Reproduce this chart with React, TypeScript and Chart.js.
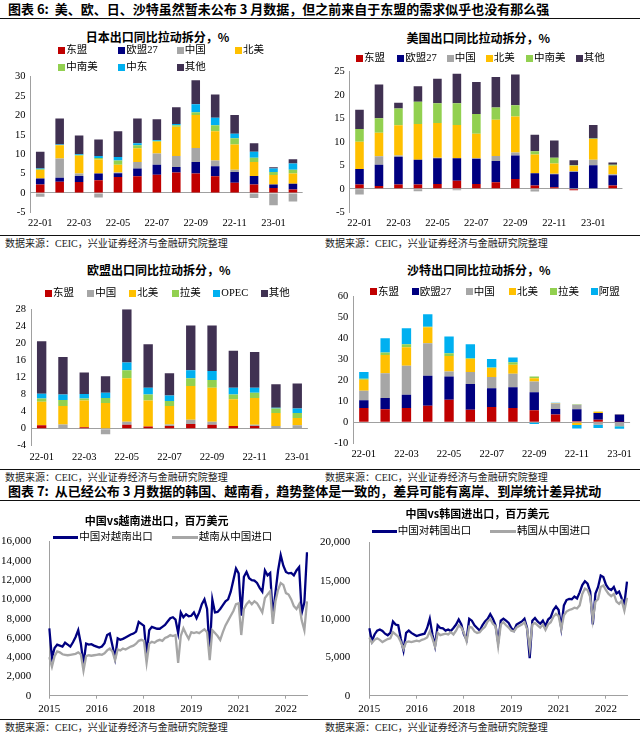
import React, { useEffect, useRef } from "react";
import { Chart, registerables } from "chart.js";
Chart.register(...registerables);

const SERIF = '"Liberation Serif", "Noto Sans CJK SC", serif';
const CJK = '"Noto Sans CJK SC", "Liberation Serif", sans-serif';
const AX = "#A0A0A0";
const NAVY = "#000080";
const GRAY = "#A6A6A6";
const COL = { asean: "#C00000", eu: "#000080", china: "#A6A6A6", na: "#FFC000", latam: "#92D050", me: "#00B0F0", other: "#403152" };

// ---------- bar-chart data ----------
const months14 = ["22-01", "22-02", "22-03", "22-04", "22-05", "22-06", "22-07", "22-08", "22-09", "22-10", "22-11", "22-12", "23-01", "23-02"];
const months13 = ["22-01", "22-02", "22-03", "22-04", "22-05", "22-06", "22-07", "22-08", "22-09", "22-10", "22-11", "22-12", "23-01"];

// Japan
const jpAsean = [2.2, 2.9, 2.8, 3.3, 4.1, 4.3, 4.7, 5.3, 5.0, 4.3, 2.6, 2.2, 1.3, 0.9];
const jpEU = [1.5, 1.0, 1.6, 1.7, 1.0, 2.0, 2.6, 1.4, 3.0, 2.6, 2.8, 2.2, 0.9, 1.5];
const jpChina = [-1.0, 5.0, 0.6, -1.2, 0.2, 1.7, 2.9, 2.8, 3.6, 1.5, 0.6, -1.3, -3.2, -2.2];
const jpNA = [2.2, 3.4, 4.6, 3.6, 2.0, 3.5, 3.0, 7.6, 8.5, 7.5, 6.5, 3.6, 2.4, 2.6];
const jpLatAm = [0.2, 0.1, 0.2, 0.4, 1.1, 0.8, 0.2, 0.4, 0.7, 1.6, 1.6, 1.1, 0.8, 1.0];
const jpME = [0.2, 0.1, 0.2, 0.5, 0.9, 0.5, 0.2, 0.3, 2.1, 1.9, 1.2, 1.5, 0.9, 1.6];
const jpOther = [4.3, 6.7, 4.8, 4.3, 6.6, 6.4, 5.4, 4.3, 6.2, 6.0, 4.8, 2.2, 0.3, 1.1];

// USA
const usAsean = [0.9, 0.6, 0.9, 0.9, 1.0, 1.7, 1.0, 1.4, 2.1, 0.7, 0.35, -0.3, 0.1, 0.7];
const usEU = [3.3, 4.5, 5.9, 5.3, 5.5, 4.8, 5.4, 4.5, 5.0, 2.6, 2.75, 3.6, 4.9, 2.2];
const usChina = [-1.2, 1.8, 0.3, -0.5, 0.1, -0.3, 0.1, 1.1, 0.6, -0.6, 0.1, 0.2, 1.2, 0.2];
const usNA = [5.8, 5.0, 6.4, 7.6, 7.4, 7.1, 5.2, 7.7, 7.7, 4.0, 2.2, 1.1, 4.4, 1.8];
const usLatAm = [2.7, 3.1, 3.6, 4.7, 4.2, 4.6, 4.2, 2.6, 2.4, 0.7, 1.2, 0.1, 0.1, 0.2];
const usOther = [4.1, 7.2, 1.2, 3.3, 5.2, 6.3, 6.8, 6.5, 6.5, 3.5, 3.7, 1.1, 2.9, 0.5];

// EU
const euAsean = [0.8, 0.1, 0.3, 0.1, 0.9, 0.5, 0.6, 1.1, 0.9, 0.6, 0.6, 0.1, 0.1];
const euChina = [0.0, 0.9, 0.0, -1.3, 0.7, 0.0, 0.4, 1.0, 0.7, 0.0, 0.3, 0.5, 0.7];
const euNA = [5.5, 4.3, 6.3, 5.9, 10.2, 6.1, 4.3, 7.9, 8.0, 6.3, 6.3, 3.1, 1.7];
const euLatAm = [0.8, 1.4, 0.5, 1.2, 1.9, 1.4, 1.2, 1.8, 1.8, 1.1, 1.2, 1.0, 1.2];
const euOPEC = [1.1, 1.3, 1.0, 1.2, 1.8, 1.6, 1.3, 1.9, 2.1, 1.6, 1.2, 0.2, 1.0];
const euOther = [12.3, 8.8, 5.1, 3.9, 12.5, 10.2, 5.2, 10.5, 10.7, 8.7, 8.4, 5.5, 5.9];

// Saudi Arabia
const saAsean = [6.8, 6.3, 6.8, 7.9, 10.8, 6.0, 7.3, 6.8, 5.8, 3.7, 0.5, 1.2, 0.2];
const saEU = [3.7, 5.3, 6.4, 14.3, 11.1, 12.3, 9.0, 10.0, 8.6, 2.7, 5.8, 3.3, 3.6];
const saChina = [4.6, 11.9, 13.8, 15.6, 2.4, 5.7, 5.3, 6.4, 5.1, 2.6, 2.1, -1.1, -1.7];
const saNA = [5.2, 8.7, 8.9, 7.6, 7.4, 6.3, 4.3, 4.3, 1.6, 0.2, -1.3, 0.6, 0.1];
const saLatAm = [0.5, 1.1, 1.4, 0.3, 1.3, 0.3, 0.3, 1.2, 0.8, 0.1, 0.2, 0.1, -0.1];
const saArab = [3.2, 6.9, 7.6, 5.9, 8.0, 6.7, 4.0, 2.3, -0.8, 0.1, -1.6, -1.6, -1.3];

// ---------- line-chart data (monthly 2015-01 .. 2023-03) ----------
const lineMonths: string[] = [];
for (let i = 0; i < 99; i++) lineMonths.push(`${2015 + Math.floor(i / 12)}-${String((i % 12) + 1).padStart(2, "0")}`);

const vnExport = [
  7000, 3900, 4950, 5300, 5200, 5100, 5500, 5300, 5100, 5550, 6100, 6800,
  5400, 3300, 5400, 5300, 5350, 5200, 5100, 5000, 5100, 5450, 6300, 6450,
  5200, 3900, 5950, 5800, 5900, 6050, 6200, 6350, 6450, 6650, 7650, 7450,
  7250, 4300, 6800, 7150, 7050, 6950, 6950, 7150, 7350, 7700, 8050, 8150,
  7900, 6500, 8650, 8150, 8450, 8250, 8300, 8650, 8050, 8650, 9500, 10000,
  9000, 4500, 10000, 8650, 8700, 9000, 9400, 9800, 10000, 10800, 12000, 13200,
  12700, 8300, 12350, 12850, 12200, 12000, 11950, 11700, 11200, 10800, 13000, 12500,
  12750, 8200, 10700, 13000, 14600, 13500, 12850, 12700, 12750, 12500, 13000, 13350,
  8600, 9700, 14900,
];
const vnImport = [
  4000, 3000, 4100, 4600, 4500, 4300, 4250, 4200, 4250, 4300, 4350, 4500,
  4300, 2600, 4100, 4200, 4150, 4200, 4250, 4300, 4250, 4400, 4700, 4900,
  4600, 3700, 4800, 4700, 4900, 4800, 4950, 5100, 5200, 5400, 5700, 5800,
  5700, 3400, 5400, 5600, 5500, 5700, 5800, 5700, 6000, 6100, 6300, 6200,
  6300, 3400, 6200, 7000, 6400, 5900, 6600, 6500, 6600, 6500, 6700, 6900,
  6600, 3700, 6800, 6500, 6200, 5800, 6600, 7300, 7800, 8300, 8800, 9500,
  9600, 6300, 9000, 9500, 9800, 9500, 9800, 9600, 9150, 8650, 10150, 10500,
  10850, 7450, 9800, 11000, 11700, 11500, 10650, 10500, 10000, 9300, 9000, 9500,
  7800, 6800, 9800,
];
const krExport = [
  8800, 7150, 8000, 8500, 8650, 8450, 8100, 7900, 8200, 9700, 9300, 9200,
  7400, 5900, 8200, 8500, 8200, 8000, 7800, 7900, 8000, 8100, 8850, 10050,
  8000, 6500, 9200, 8850, 8800, 8500, 8650, 8450, 8850, 9300, 9950, 9300,
  8000, 7350, 10050, 9800, 9200, 8850, 8500, 9200, 9700, 10050, 10650, 10050,
  9200, 7000, 9800, 10050, 9800, 9500, 8850, 8500, 9300, 9500, 9700, 10050,
  8850, 4900, 9800, 10150, 9700, 9400, 9800, 9100, 9950, 10250, 11200, 11650,
  11200, 8850, 11800, 12500, 12650, 12600, 12950, 12700, 13500, 14450, 14950, 14650,
  13600, 9300, 13350, 14200, 15700, 15500, 14500, 14000, 13800, 14200, 13350, 13600,
  12700, 12000, 14900,
];
const krImport = [
  7600, 6900, 7300, 7500, 7300, 7000, 7200, 7400, 7500, 8300, 8000, 7700,
  7000, 6100, 7000, 7100, 7000, 7100, 7200, 7100, 7300, 7400, 7600, 8400,
  7500, 6400, 8200, 7900, 8000, 8100, 8000, 8300, 8000, 8500, 9200, 8900,
  8200, 7100, 9000, 8900, 8400, 8200, 8300, 8700, 9000, 9700, 10000, 9400,
  9100, 6500, 9300, 9600, 9200, 8900, 8500, 8400, 8900, 9100, 9300, 9600,
  8700, 6200, 9300, 9500, 9200, 8900, 9300, 8600, 9300, 9600, 10300, 10700,
  10400, 8700, 10500, 11000, 11200, 11300, 11500, 11400, 11800, 13300, 14000, 13800,
  12900, 9900, 12300, 12600, 14200, 14400, 13800, 13300, 13000, 13300, 12300, 12000,
  12400, 11100, 12800,
];

// ---------- helpers ----------
type Geo = { cx: number; cy: number; cw: number; ch: number; L: number; T: number; R: number; B: number };
type Series = { label: string; data: number[]; color: string };

function barConfig(geo: Geo, labels: string[], series: Series[], min: number, max: number, step: number, pad: number) {
  return {
    type: "bar",
    data: {
      labels,
      datasets: series.map((s) => ({
        label: s.label,
        data: s.data,
        backgroundColor: s.color,
        borderWidth: 0,
        barPercentage: 0.44,
        categoryPercentage: 1,
      })),
    },
    options: {
      animation: false,
      responsive: false,
      maintainAspectRatio: false,
      devicePixelRatio: 1,
      layout: { padding: { left: 0, top: geo.T - geo.cy, right: geo.cx + geo.cw - geo.R, bottom: 0 } },
      plugins: { legend: { display: false }, title: { display: false }, tooltip: { enabled: false } },
      scales: {
        x: {
          stacked: true,
          grid: { display: false, drawTicks: false },
          border: { display: false },
          ticks: {
            autoSkip: false,
            maxRotation: 0,
            minRotation: 0,
            padding: 5,
            color: "#000",
            font: { family: SERIF, size: 10.5 },
            callback: (_v: any, i: number) => (i % 2 === 0 ? labels[i] : ""),
          },
          afterFit: (s: any) => {
            s.height = geo.cy + geo.ch - geo.B;
          },
        },
        y: {
          stacked: true,
          min,
          max,
          ticks: { stepSize: step, padding: pad, color: "#000", font: { family: SERIF, size: 10.5 } },
          grid: {
            drawTicks: false,
            lineWidth: 1,
            color: (ctx: any) => (ctx.tick && ctx.tick.value === 0 ? AX : "rgba(0,0,0,0)"),
          },
          border: { display: true, color: AX },
          afterFit: (s: any) => {
            s.width = geo.L - geo.cx;
          },
        },
      },
    },
  };
}

function lineConfig(geo: Geo, labels: string[], a: Series, b: Series, max: number, step: number, pad: number) {
  return {
    type: "line",
    data: {
      labels,
      datasets: [
        { label: a.label, data: a.data, borderColor: a.color, borderWidth: 2.3, pointRadius: 0, tension: 0, order: 1 },
        { label: b.label, data: b.data, borderColor: b.color, borderWidth: 2.3, pointRadius: 0, tension: 0, order: 0 },
      ],
    },
    options: {
      animation: false,
      responsive: false,
      maintainAspectRatio: false,
      devicePixelRatio: 1,
      layout: { padding: { left: 0, top: geo.T - geo.cy, right: geo.cx + geo.cw - geo.R, bottom: 0 } },
      plugins: { legend: { display: false }, title: { display: false }, tooltip: { enabled: false } },
      scales: {
        x: {
          grid: {
            display: true,
            drawOnChartArea: false,
            drawTicks: true,
            tickLength: 3,
            color: (ctx: any) => (ctx.index % 18 === 0 ? AX : "rgba(0,0,0,0)"),
          },
          border: { display: true, color: AX },
          ticks: {
            autoSkip: false,
            maxRotation: 0,
            minRotation: 0,
            padding: 4,
            color: "#000",
            font: { family: SERIF, size: 11 },
            callback: (_v: any, i: number) => (i % 18 === 0 ? labels[i].slice(0, 4) : ""),
          },
          afterFit: (s: any) => {
            s.height = geo.cy + geo.ch - geo.B;
          },
        },
        y: {
          min: 0,
          max,
          ticks: {
            stepSize: step,
            padding: pad,
            color: "#000",
            font: { family: SERIF, size: 11 },
            callback: (v: any) => Number(v).toLocaleString("en-US"),
          },
          grid: { display: false },
          border: { display: true, color: AX },
          afterFit: (s: any) => {
            s.width = geo.L - geo.cx;
          },
        },
      },
    },
  };
}

function ChartCanvas({ geo, config }: { geo: Geo; config: any }) {
  const ref = useRef<HTMLCanvasElement>(null);
  useEffect(() => {
    const chart = new Chart(ref.current as HTMLCanvasElement, config);
    return () => chart.destroy();
  }, []);
  return (
    <canvas
      ref={ref}
      width={geo.cw}
      height={geo.ch}
      style={{ position: "absolute", left: geo.cx, top: geo.cy, width: geo.cw, height: geo.ch }}
    />
  );
}

function Txt(props: { x: number; y: number; text: string; size?: number; bold?: boolean; center?: boolean; family?: string; color?: string }) {
  const size = props.size ?? 10.5;
  const lh = Math.round(size * 1.5);
  const style: any = {
    position: "absolute",
    top: props.y - lh / 2,
    height: lh,
    lineHeight: `${lh}px`,
    fontSize: size,
    fontWeight: props.bold ? 700 : 400,
    fontFamily: props.family ?? SERIF,
    color: props.color ?? "#000",
    whiteSpace: "pre",
  };
  if (props.center) {
    style.left = props.x - 200;
    style.width = 400;
    style.textAlign = "center";
  } else {
    style.left = props.x;
  }
  return <div style={style}>{props.text}</div>;
}

function BoxLegend({ x, y, color, text }: { x: number; y: number; color: string; text: string }) {
  return (
    <>
      <div style={{ position: "absolute", left: x, top: y - 3.5, width: 7, height: 7, background: color }} />
      <Txt x={x + 8} y={y} text={text} size={10.5} />
    </>
  );
}

function LineLegend({ x, y, color, text, len }: { x: number; y: number; color: string; text: string; len: number }) {
  return (
    <>
      <div style={{ position: "absolute", left: x, top: y - 1.5, width: len, height: 3, background: color }} />
      <Txt x={x + len + 1} y={y} text={text} size={10.5} />
    </>
  );
}

function HLine({ y, h = 1, x = 0, w = 640 }: { y: number; h?: number; x?: number; w?: number }) {
  return <div style={{ position: "absolute", left: x, top: y - h / 2, width: w, height: h, background: "#111" }} />;
}

// ---------- geometry ----------
const geoJP: Geo = { cx: 0, cy: 60, cw: 320, ch: 175, L: 30.5, T: 76.7, R: 30.5 + 14 * 19.44, B: 212.3 };
const geoUS: Geo = { cx: 320, cy: 60, cw: 320, ch: 175, L: 349.75, T: 69.3, R: 349.75 + 14 * 19.48, B: 212.3 };
const geoEU: Geo = { cx: 0, cy: 298, cw: 320, ch: 170, L: 31, T: 309.3, R: 31 + 13 * 21.3, B: 445.7 };
const geoSA: Geo = { cx: 320, cy: 285, cw: 320, ch: 183, L: 353.2, T: 296.7, R: 353.2 + 13 * 21.3, B: 443.3 };
const geoVN: Geo = { cx: 0, cy: 525, cw: 320, ch: 193, L: 49.3, T: 537.3, R: 307, B: 695.7 };
const geoKR: Geo = { cx: 320, cy: 525, cw: 320, ch: 193, L: 369.3, T: 540, R: 627, B: 695.7 };

const SRC = "数据来源：CEIC，兴业证券经济与金融研究院整理";

export default function App() {
  const jpSeries: Series[] = [
    { label: "东盟", data: jpAsean, color: COL.asean },
    { label: "欧盟27", data: jpEU, color: COL.eu },
    { label: "中国", data: jpChina, color: COL.china },
    { label: "北美", data: jpNA, color: COL.na },
    { label: "中南美", data: jpLatAm, color: COL.latam },
    { label: "中东", data: jpME, color: COL.me },
    { label: "其他", data: jpOther, color: COL.other },
  ];
  const usSeries: Series[] = [
    { label: "东盟", data: usAsean, color: COL.asean },
    { label: "欧盟27", data: usEU, color: COL.eu },
    { label: "中国", data: usChina, color: COL.china },
    { label: "北美", data: usNA, color: COL.na },
    { label: "中南美", data: usLatAm, color: COL.latam },
    { label: "其他", data: usOther, color: COL.other },
  ];
  const euSeries: Series[] = [
    { label: "东盟", data: euAsean, color: COL.asean },
    { label: "中国", data: euChina, color: COL.china },
    { label: "北美", data: euNA, color: COL.na },
    { label: "拉美", data: euLatAm, color: COL.latam },
    { label: "OPEC", data: euOPEC, color: COL.me },
    { label: "其他", data: euOther, color: COL.other },
  ];
  const saSeries: Series[] = [
    { label: "东盟", data: saAsean, color: COL.asean },
    { label: "欧盟27", data: saEU, color: COL.eu },
    { label: "中国", data: saChina, color: COL.china },
    { label: "北美", data: saNA, color: COL.na },
    { label: "拉美", data: saLatAm, color: COL.latam },
    { label: "阿盟", data: saArab, color: COL.me },
  ];
  const vnA: Series = { label: "中国对越南出口", data: vnExport, color: NAVY };
  const vnB: Series = { label: "越南从中国进口", data: vnImport, color: GRAY };
  const krA: Series = { label: "中国对韩国出口", data: krExport, color: NAVY };
  const krB: Series = { label: "韩国从中国进口", data: krImport, color: GRAY };

  return (
    <div style={{ position: "absolute", left: 0, top: 0, width: 640, height: 736, background: "#fff", overflow: "hidden" }}>
      {/* headers */}
      <Txt x={8} y={9} text="图表 6:  美、欧、日、沙特虽然暂未公布 3 月数据，但之前来自于东盟的需求似乎也没有那么强" size={13} bold family={CJK} />
      <HLine y={18.5} h={1.5} />
      <Txt x={8} y={491} text="图表 7:  从已经公布 3 月数据的韩国、越南看，趋势整体是一致的，差异可能有离岸、到岸统计差异扰动" size={13} bold family={CJK} />
      <HLine y={500.5} h={1.5} />

      {/* charts */}
      <ChartCanvas geo={geoJP} config={barConfig(geoJP, months14, jpSeries, -5, 30, 5, 5)} />
      <ChartCanvas geo={geoUS} config={barConfig(geoUS, months14, usSeries, -5, 25, 5, 5)} />
      <ChartCanvas geo={geoEU} config={barConfig(geoEU, months13, euSeries, -4, 28, 4, 5)} />
      <ChartCanvas geo={geoSA} config={barConfig(geoSA, months13, saSeries, -10, 60, 10, 5)} />
      <ChartCanvas geo={geoVN} config={lineConfig(geoVN, lineMonths, vnA, vnB, 16000, 2000, 10)} />
      <ChartCanvas geo={geoKR} config={lineConfig(geoKR, lineMonths, krA, krB, 20000, 5000, 11)} />

      {/* titles */}
      <Txt x={157.5} y={37.3} text="日本出口同比拉动拆分，%" size={12} bold center family={CJK} />
      <Txt x={478.3} y={37.7} text="美国出口同比拉动拆分，%" size={12} bold center family={CJK} />
      <Txt x={158.7} y={270} text="欧盟出口同比拉动拆分，%" size={12} bold center family={CJK} />
      <Txt x={478.7} y={270} text="沙特出口同比拉动拆分，%" size={12} bold center family={CJK} />
      <Txt x={156.7} y={520} text="中国vs越南进出口，百万美元" size={11} bold center family={CJK} />
      <Txt x={477.3} y={513.3} text="中国vs韩国进出口，百万美元" size={11} bold center family={CJK} />

      {/* legends: Japan */}
      <BoxLegend x={58.3} y={50} color={COL.asean} text="东盟" />
      <BoxLegend x={118.3} y={50} color={COL.eu} text="欧盟27" />
      <BoxLegend x={176.7} y={50} color={COL.china} text="中国" />
      <BoxLegend x={235} y={50} color={COL.na} text="北美" />
      <BoxLegend x={58.3} y={67.3} color={COL.latam} text="中南美" />
      <BoxLegend x={118.3} y={67.3} color={COL.me} text="中东" />
      <BoxLegend x={176.7} y={67.3} color={COL.other} text="其他" />
      {/* US */}
      <BoxLegend x={356} y={58.3} color={COL.asean} text="东盟" />
      <BoxLegend x={397.3} y={58.3} color={COL.eu} text="欧盟27" />
      <BoxLegend x={446.7} y={58.3} color={COL.china} text="中国" />
      <BoxLegend x={485.7} y={58.3} color={COL.na} text="北美" />
      <BoxLegend x={526} y={58.3} color={COL.latam} text="中南美" />
      <BoxLegend x={575.7} y={58.3} color={COL.other} text="其他" />
      {/* EU */}
      <BoxLegend x={45} y={293.3} color={COL.asean} text="东盟" />
      <BoxLegend x={87.3} y={293.3} color={COL.china} text="中国" />
      <BoxLegend x={129.3} y={293.3} color={COL.na} text="北美" />
      <BoxLegend x={171.7} y={293.3} color={COL.latam} text="拉美" />
      <BoxLegend x={213.3} y={293.3} color={COL.me} text="OPEC" />
      <BoxLegend x={260.7} y={293.3} color={COL.other} text="其他" />
      {/* Saudi */}
      <BoxLegend x={370} y={291.7} color={COL.asean} text="东盟" />
      <BoxLegend x={411.7} y={291.7} color={COL.eu} text="欧盟27" />
      <BoxLegend x={465.7} y={291.7} color={COL.china} text="中国" />
      <BoxLegend x={509} y={291.7} color={COL.na} text="北美" />
      <BoxLegend x={550} y={291.7} color={COL.latam} text="拉美" />
      <BoxLegend x={590.7} y={291.7} color={COL.me} text="阿盟" />
      {/* line legends */}
      <LineLegend x={53.3} y={537.3} color={NAVY} text="中国对越南出口" len={25} />
      <LineLegend x={171.7} y={537.3} color={GRAY} text="越南从中国进口" len={26} />
      <LineLegend x={371.7} y={531} color={NAVY} text="中国对韩国出口" len={25} />
      <LineLegend x={490} y={531} color={GRAY} text="韩国从中国进口" len={26} />

      {/* source rows */}
      <HLine y={235.7} />
      <Txt x={5} y={243.3} text={SRC} size={10} color="#222" />
      <Txt x={325} y={243.3} text={SRC} size={10} color="#222" />
      <HLine y={469.5} />
      <Txt x={5} y={477} text={SRC} size={10} color="#222" />
      <Txt x={325} y={477} text={SRC} size={10} color="#222" />
      <HLine y={719.3} />
      <Txt x={5} y={727} text={SRC} size={10} color="#222" />
      <Txt x={325} y={727} text={SRC} size={10} color="#222" />
    </div>
  );
}
